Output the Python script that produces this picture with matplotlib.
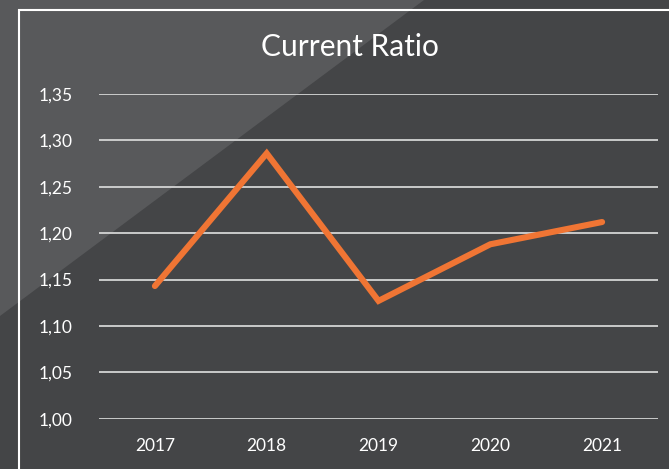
import matplotlib.pyplot as plt
from matplotlib.patches import Polygon, Rectangle

years = ["2017", "2018", "2019", "2020", "2021"]
current_ratio = [1.143, 1.286, 1.127, 1.188, 1.212]
y_ticks = [1.00, 1.05, 1.10, 1.15, 1.20, 1.25, 1.30, 1.35]
y_tick_labels = ["1,00", "1,05", "1,10", "1,15", "1,20", "1,25", "1,30", "1,35"]

W, H = 669, 469
dark = "#444547"
light = "#58595b"

plt.rcParams["font.family"] = ["Lato", "DejaVu Sans"]

fig = plt.figure(figsize=(W / 100, H / 100), dpi=100, facecolor=dark)

# lighter diagonal wedge in the upper-left corner
fig.patches.append(Polygon([(0, 1), (424 / W, 1), (0, 1 - 316 / H)],
                           closed=True, transform=fig.transFigure,
                           facecolor=light, edgecolor="none", zorder=-2))

# white frame of the chart area (runs off the right and bottom edges)
fig.patches.append(Rectangle((19 / W, -0.05), 1.0, 1 - 10 / H + 0.05,
                             transform=fig.transFigure, fill=False,
                             edgecolor="white", linewidth=1.5, zorder=-1))

axis = fig.add_axes([99 / W, 50.3 / H, 559 / W, (418.7 - 94) / H])
axis.set_facecolor("none")
axis.set_zorder(2)

x = list(range(len(years)))
axis.plot(x, current_ratio, color="#f07534", linewidth=4.4,
          solid_capstyle="round", solid_joinstyle="miter", clip_on=False, zorder=3)

axis.set_xlim(-0.5, len(years) - 0.5)
axis.set_ylim(1.0, 1.35)
axis.set_xticks(x)
axis.set_xticklabels(years)
axis.set_yticks(y_ticks)
axis.set_yticklabels(y_tick_labels)
axis.grid(axis="y", color="#d4d4d4", linewidth=1.3)
axis.set_axisbelow(True)
for spine in axis.spines.values():
    spine.set_visible(False)
axis.tick_params(axis="both", length=0, colors="white", labelsize=12.5)
axis.tick_params(axis="x", pad=14)
axis.tick_params(axis="y", pad=19)

fig.text(350 / W, 1 - 46.7 / H, "Current Ratio", color="white", fontsize=21.5,
         ha="center", va="center")

fig.savefig("out.png", dpi=100, facecolor=dark)
